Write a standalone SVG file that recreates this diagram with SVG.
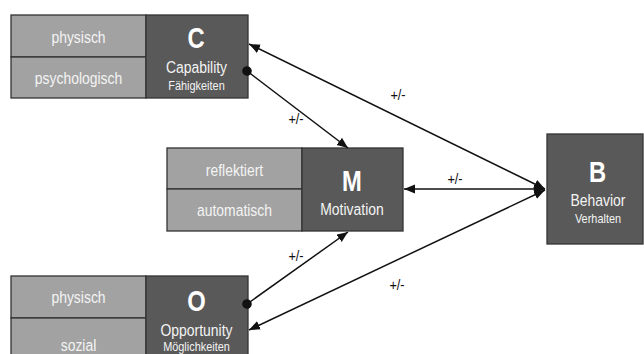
<svg xmlns="http://www.w3.org/2000/svg" width="644" height="354" viewBox="0 0 644 354">
<style>
.lt{fill:#a2a2a2;stroke:#333;stroke-width:1.3}
.dk{fill:#595959;stroke:#333;stroke-width:1.3}
text{font-family:"Liberation Sans",Arial,sans-serif;fill:#f4f4f4;text-anchor:middle}
.cell{font-size:17px}
.big{font-size:29px;font-weight:bold;fill:#fff}
.name{font-size:17px}
.sub{font-size:13px}
.lbl{font-size:15px;fill:#111}
.ln{stroke:#111;stroke-width:1.5;fill:none}
</style>
<defs>
<marker id="ah" markerUnits="userSpaceOnUse" markerWidth="12" markerHeight="10" refX="11" refY="4.5" orient="auto-start-reverse">
<path d="M0,0 L11,4.5 L0,9 Z" fill="#111"/>
</marker>
<marker id="dot" markerUnits="userSpaceOnUse" markerWidth="12" markerHeight="12" refX="6" refY="6" orient="auto">
<circle cx="6" cy="6" r="4.8" fill="#111"/>
</marker>
</defs>
<g id="nodeC">
<rect class="lt" x="11" y="15" width="135" height="42"/>
<rect class="lt" x="11" y="57" width="135" height="41"/>
<rect class="dk" x="146" y="15" width="102" height="83"/>
<text class="cell" transform="translate(78.5,43) scale(0.82,1)">physisch</text>
<text class="cell" transform="translate(78.5,84) scale(0.82,1)">psychologisch</text>
<text class="big" transform="translate(196,48) scale(0.82,1)">C</text>
<text class="name" transform="translate(196.5,73) scale(0.82,1)">Capability</text>
<text class="sub" transform="translate(196.5,90) scale(0.84,1)">Fähigkeiten</text>
</g>
<g id="nodeM">
<rect class="lt" x="167" y="148" width="135" height="41"/>
<rect class="lt" x="167" y="189" width="135" height="42"/>
<rect class="dk" x="302" y="148" width="101" height="83"/>
<text class="cell" transform="translate(234.5,176) scale(0.82,1)">reflektiert</text>
<text class="cell" transform="translate(234.5,216) scale(0.82,1)">automatisch</text>
<text class="big" transform="translate(352,190.5) scale(0.82,1)">M</text>
<text class="name" transform="translate(352,215) scale(0.82,1)">Motivation</text>
</g>
<g id="nodeO">
<rect class="lt" x="11" y="276" width="135" height="42"/>
<rect class="lt" x="11" y="318" width="135" height="41"/>
<rect class="dk" x="146" y="276" width="102" height="83"/>
<text class="cell" transform="translate(78.5,303) scale(0.82,1)">physisch</text>
<text class="cell" transform="translate(78.5,351) scale(0.82,1)">sozial</text>
<text class="big" transform="translate(196.5,311) scale(0.82,1)">O</text>
<text class="name" transform="translate(196.5,335.5) scale(0.82,1)">Opportunity</text>
<text class="sub" transform="translate(196.5,350.5) scale(0.84,1)">Möglichkeiten</text>
</g>
<g id="nodeB">
<rect class="dk" x="547" y="134" width="96" height="110"/>
<text class="big" transform="translate(597.5,182) scale(0.82,1)">B</text>
<text class="name" transform="translate(598,205.5) scale(0.82,1)">Behavior</text>
<text class="sub" transform="translate(598,222.5) scale(0.84,1)">Verhalten</text>
</g>
<g id="connectors">
<line class="ln" x1="545" y1="189" x2="249" y2="44" marker-start="url(#ah)" marker-end="url(#ah)"/>
<line class="ln" x1="545" y1="189" x2="404" y2="189" marker-start="url(#ah)" marker-end="url(#ah)"/>
<line class="ln" x1="545" y1="190" x2="249" y2="330" marker-start="url(#ah)" marker-end="url(#ah)"/>
<line class="ln" x1="247" y1="71" x2="348" y2="148" marker-start="url(#dot)" marker-end="url(#ah)"/>
<line class="ln" x1="247" y1="304" x2="348" y2="232" marker-start="url(#dot)" marker-end="url(#ah)"/>
<text class="lbl" transform="translate(398,100) scale(0.85,1)">+/-</text>
<text class="lbl" transform="translate(296,124) scale(0.85,1)">+/-</text>
<text class="lbl" transform="translate(455,184) scale(0.85,1)">+/-</text>
<text class="lbl" transform="translate(296,261) scale(0.85,1)">+/-</text>
<text class="lbl" transform="translate(397,290) scale(0.85,1)">+/-</text>
</g>
</svg>
